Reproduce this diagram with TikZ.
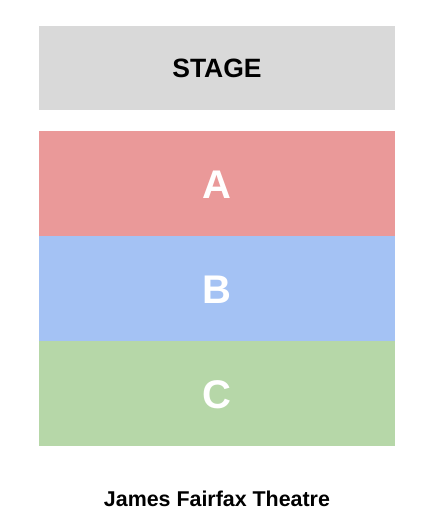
\documentclass[tikz,border=0pt]{standalone}
\usepackage{fontspec}
\setmainfont{Liberation Sans}
\definecolor{stagegray}{HTML}{D9D9D9}
\definecolor{secA}{HTML}{EA9999}
\definecolor{secB}{HTML}{A4C2F4}
\definecolor{secC}{HTML}{B6D7A8}
\begin{document}
\begin{tikzpicture}[x=1pt,y=-1pt,
  block/.style={inner sep=0pt, outer sep=0pt, minimum width=356pt, anchor=north west},
  lbl/.style={font=\bfseries\fontsize{40}{40}\selectfont, text=white}]
\useasboundingbox (0,0) rectangle (445,529);
\node[block, fill=stagegray, minimum height=84.5pt] (stage) at (39,26) {};
\node[font=\bfseries\fontsize{26.5}{26.5}\selectfont] (stagetxt) at (stage.center) {STAGE};
\node[block, fill=secA, minimum height=105pt] (a) at (39,131) {};
\node[block, fill=secB, minimum height=105pt] (b) at (39,236) {};
\node[block, fill=secC, minimum height=105pt] (c) at (39,341) {};
\node[lbl] (at) at ([yshift=-1pt]a.center) {A};
\node[lbl] (bt) at ([yshift=-1pt]b.center) {B};
\node[lbl] (ct) at ([yshift=-1pt]c.center) {C};
\node[font=\bfseries\fontsize{21.4}{21.4}\selectfont] (title) at (217,499) {James Fairfax Theatre};
\end{tikzpicture}
\end{document}
